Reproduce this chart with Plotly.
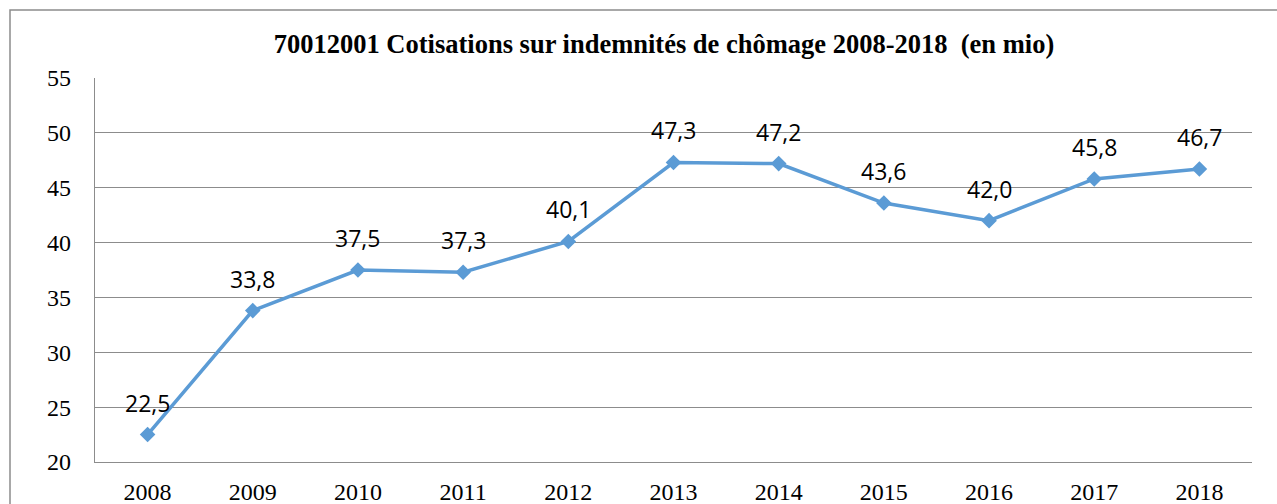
import plotly.graph_objects as go

years = ["2008", "2009", "2010", "2011", "2012", "2013", "2014", "2015", "2016", "2017", "2018"]
values = [22.5, 33.8, 37.5, 37.3, 40.1, 47.3, 47.2, 43.6, 42.0, 45.8, 46.7]
labels = ["22,5", "33,8", "37,5", "37,3", "40,1", "47,3", "47,2", "43,6", "42,0", "45,8", "46,7"]
y_ticks = [20, 25, 30, 35, 40, 45, 50, 55]

SERIF = "Liberation Serif, Times New Roman, serif"

fig = go.Figure()
fig.add_trace(go.Scatter(
    x=years, y=values, mode="lines+markers",
    line=dict(color="#5B9BD5", width=3.5),
    marker=dict(symbol="diamond", size=12, color="#5B9BD5"),
    hoverinfo="skip", showlegend=False,
))

for i, (y, t) in enumerate(zip(values, labels)):
    fig.add_annotation(x=i, y=y, xref="x", yref="y", text=t, showarrow=False, yshift=32,
                       font=dict(family="Open Sans, Liberation Sans, sans-serif", size=23, color="black"))

W, H = 1277, 504
L, R, T, B = 95, 25, 78, 42
pw, ph = W - L - R, H - T - B

fig.add_shape(type="rect", xref="paper", yref="paper",
              x0=(10 - L) / pw, x1=(W + 10 - L) / pw,
              y0=-(B + 20) / ph, y1=(H - B - 10) / ph,
              line=dict(color="#8c8c8c", width=1.5), fillcolor="rgba(0,0,0,0)", layer="below")

fig.update_layout(
    width=W, height=H,
    margin=dict(l=L, r=R, t=T, b=B, autoexpand=False),
    paper_bgcolor="white", plot_bgcolor="white",
    title=dict(text="<b>70012001 Cotisations sur indemnités de chômage 2008-2018  (en mio)</b>",
               x=664 / W, xanchor="center", y=1 - 44 / H, yanchor="middle",
               font=dict(family=SERIF, size=26.5, color="black")),
    xaxis=dict(type="category", range=[-0.5, 10.5], showgrid=False, automargin=False,
               showline=True, linecolor="#8c8c8c", linewidth=1.2,
               ticks="", ticklabelstandoff=8,
               tickfont=dict(family=SERIF, size=24, color="black")),
    yaxis=dict(range=[20, 55], tickvals=y_ticks, showgrid=True, gridcolor="#8c8c8c", gridwidth=1.2,
               showline=True, linecolor="#8c8c8c", linewidth=1.2, zeroline=False, automargin=False,
               ticks="", ticklabelstandoff=18,
               tickfont=dict(family=SERIF, size=24, color="black")),
)

fig.write_html("out.html", config={"displayModeBar": False},
               post_script="document.body.style.margin='0';")
